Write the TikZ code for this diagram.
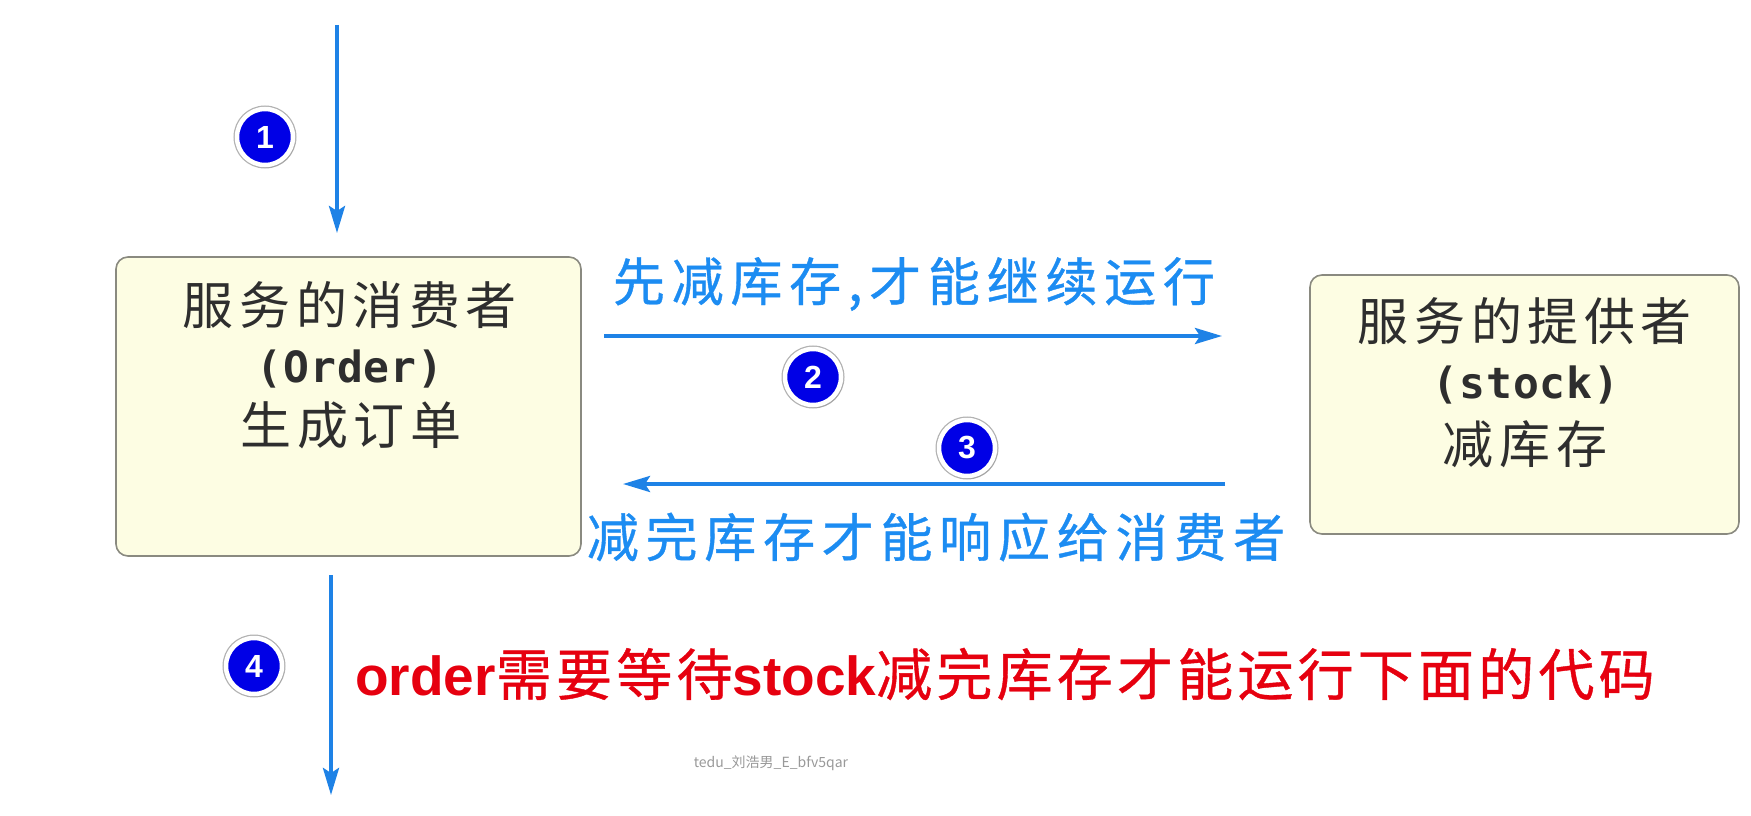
\documentclass[tikz,border=0pt]{standalone}
\usepackage{fontspec}
\usetikzlibrary{arrows.meta,shadows}
\newfontfamily\cjk{Noto Sans CJK SC}
\newfontfamily\cjkb{Noto Sans CJK SC}[FakeBold=0.7]
\newfontfamily\monob{DejaVu Sans Mono Bold}
\newfontfamily\arialb{Liberation Sans Bold}
\definecolor{arrowblue}{HTML}{1E82E6}
\definecolor{textblue}{HTML}{1C8CF2}
\definecolor{numblue}{HTML}{0000E6}
\definecolor{boxfill}{HTML}{FDFDE3}
\definecolor{boxline}{HTML}{8A8A80}
\definecolor{boxtext}{HTML}{2E2E2E}
\definecolor{redtext}{HTML}{E6000F}
\tikzset{
  box/.style={draw=boxline, fill=boxfill, line width=1.6pt, rounded corners=12pt, inner sep=0pt},
  boxcjk/.style={text=boxtext, inner sep=0pt, anchor=center, font=\cjk\fontsize{51}{51}\selectfont\addfontfeatures{LetterSpace=11}},
  boxmono/.style={text=boxtext, inner sep=0pt, anchor=center, font=\monob\fontsize{43}{43}\selectfont\addfontfeatures{LetterSpace=2}},
  bluelabel/.style={text=textblue, inner sep=0pt, anchor=center, font=\cjkb\fontsize{52}{52}\selectfont\addfontfeatures{LetterSpace=13}},
  flow/.style={draw=arrowblue, line width=3.8pt, -{Stealth[length=27pt,width=16pt,inset=5pt]}},
  num/.style={circle, fill=numblue, draw=white, line width=4.5pt, minimum size=56pt, inner sep=0pt,
    text=white, font=\arialb\fontsize{32}{32}\selectfont,
    preaction={draw=black!30, line width=7pt},
    drop shadow={shadow xshift=2pt, shadow yshift=-3pt, fill=black!40, opacity=0.5}},
}
\begin{document}
\begin{tikzpicture}[x=1pt,y=-1pt]
\useasboundingbox (0,0) rectangle (1751,816);
\fill[white] (0,0) rectangle (1751,816);

% boxes
\node[box, minimum width=465pt, minimum height=299pt] (cons) at (348.5,406.5) {};
\node[box, minimum width=429pt, minimum height=259pt] (prov) at (1524.5,404.5) {};

\node[boxcjk] (c1) at (350,305.5) {服务的消费者};
\node[boxmono] (c2) at (350,369) {(Order)};
\node[boxcjk] (c3) at (351,425.5) {生成订单};

\node[boxcjk] (p1) at (1525,321) {服务的提供者};
\node[boxmono] (p2) at (1526,385) {(stock)};
\node[boxcjk] (p3) at (1525,444) {减库存};

% arrow 1
\coordinate (a1s) at (337,25);
\coordinate (a1e) at (337,233);
\draw[flow] (a1s) -- (a1e);
\node[num] (n1) at (265,137) {1};

% arrow 2
\coordinate (a2s) at (604,336);
\coordinate (a2e) at (1222,336);
\draw[flow] (a2s) -- (a2e);
\node[bluelabel] (t2) at (914,284) {先减库存,才能继续运行};
\node[num] (n2) at (813,377) {2};

% arrow 3
\coordinate (a3s) at (1225,484);
\coordinate (a3e) at (623,484);
\draw[flow] (a3s) -- (a3e);
\node[num] (n3) at (967,448) {3};
\node[bluelabel] (t3) at (936,537) {减完库存才能响应给消费者};

% arrow 4
\coordinate (a4s) at (331,575);
\coordinate (a4e) at (331,795);
\draw[flow] (a4s) -- (a4e);
\node[num] (n4) at (254,666) {4};

\node[text=redtext, inner sep=0pt, anchor=center] (t4) at (1005,674)
  {\arialb\fontsize{55}{55}\selectfont order\cjkb\fontsize{56}{56}\selectfont\addfontfeatures{LetterSpace=7.5}需要等待\arialb\fontsize{55}{55}\selectfont stock\cjkb\fontsize{56}{56}\selectfont\addfontfeatures{LetterSpace=7.5}减完库存才能运行下面的代码};

\node[text=black!40, inner sep=0pt, anchor=center, font=\cjk\fontsize{14}{14}\selectfont] (wm) at (771,763) {tedu\_刘浩男\_E\_bfv5qar};
\end{tikzpicture}
\end{document}
